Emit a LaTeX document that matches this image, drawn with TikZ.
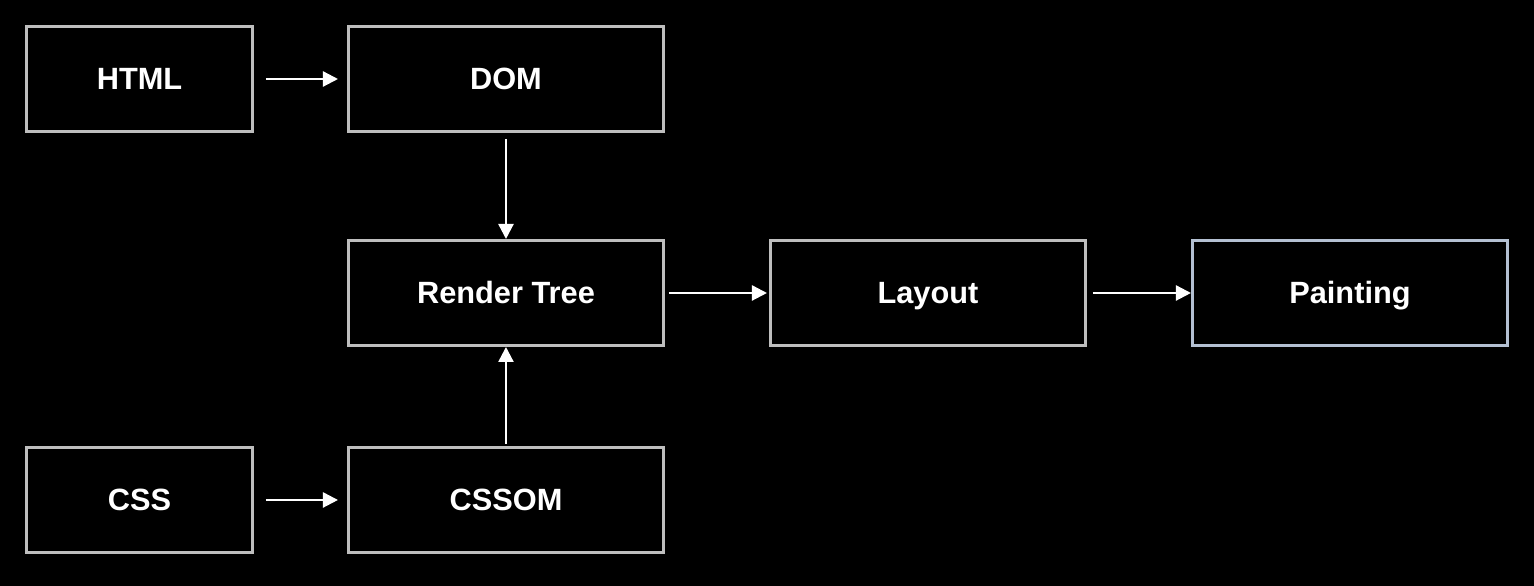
\documentclass[tikz,border=0pt]{standalone}
\usepackage{fontspec}
\setmainfont{Liberation Sans}
\definecolor{boxgray}{RGB}{190, 190, 190}
\definecolor{paintgray}{RGB}{180, 192, 210}
\usepackage{tikz}
\usetikzlibrary{positioning, arrows.meta}

\begin{document}
\begin{tikzpicture}[node distance=2.12cm and 2.08cm, >={Triangle[length=0.3cm, width=0.3cm]}, every node/.style={font=\fontsize{17.5}{20}\selectfont\bfseries, text=white, text height=12.6pt, text depth=1pt}]
    \fill [black] (0,0) rectangle (30.68,-11.72);
    \useasboundingbox (0,0) rectangle (30.68,-11.72);

    \node [draw=boxgray, line width=1.7pt, minimum width=4.52cm, minimum height=2.1cm, anchor=north west] (html) at (0.5,-0.5) {HTML};
    \node [draw=boxgray, line width=1.7pt, minimum width=6.3cm, minimum height=2.1cm, right=1.86cm of html] (dom) {DOM};
    \node [draw=boxgray, line width=1.7pt, minimum width=6.3cm, minimum height=2.1cm, below=of dom] (render) {Render Tree};
    \node [draw=boxgray, line width=1.7pt, minimum width=6.3cm, minimum height=2.1cm, right=of render] (layout) {Layout};
    \node [draw=paintgray, line width=1.7pt, minimum width=6.3cm, minimum height=2.1cm, right=of layout] (paint) {Painting};
    \node [draw=boxgray, line width=1.7pt, minimum width=6.3cm, minimum height=2.1cm, below=1.98cm of render] (cssom) {CSSOM};
    \node [draw=boxgray, line width=1.7pt, minimum width=4.52cm, minimum height=2.1cm, left=1.86cm of cssom] (css) {CSS};

    \draw [->, white, line width=1.3pt, shorten <=0.24cm, shorten >=0.18cm] (html) -- (dom);
    \draw [->, white, line width=1.3pt, shorten <=0.12cm] (dom) -- (render);
    \draw [->, white, line width=1.3pt, shorten <=0.04cm] (cssom) -- (render);
    \draw [->, white, line width=1.3pt, shorten <=0.08cm, shorten >=0.04cm] (render) -- (layout);
    \draw [->, white, line width=1.3pt, shorten <=0.12cm] (layout) -- (paint);
    \draw [->, white, line width=1.3pt, shorten <=0.24cm, shorten >=0.18cm] (css) -- (cssom);
\end{tikzpicture}
\end{document}
